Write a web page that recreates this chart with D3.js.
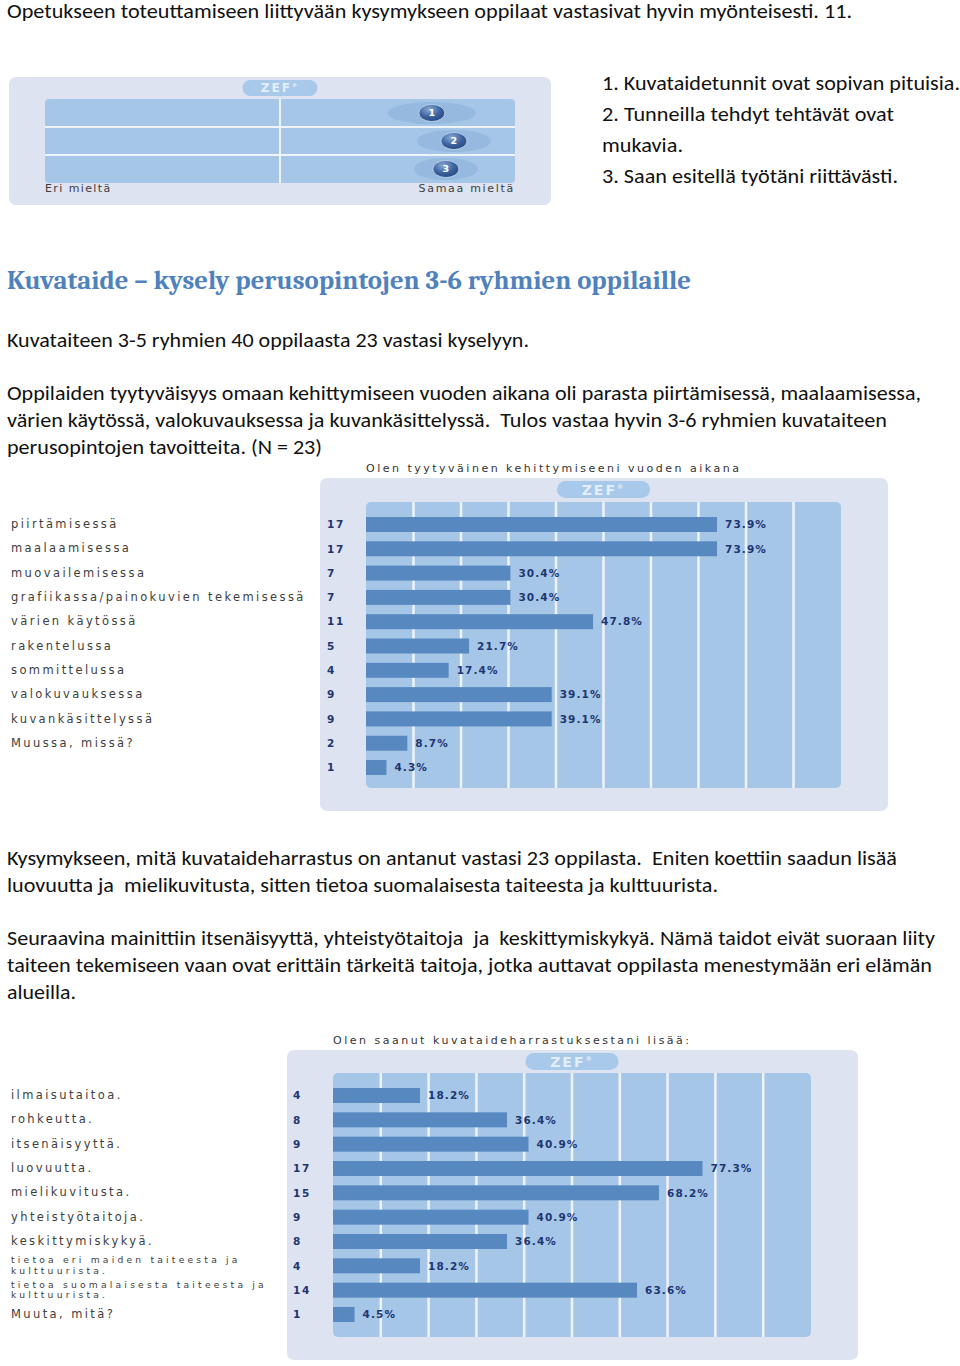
<!DOCTYPE html>
<html><head><meta charset="utf-8">
<script src="https://cdn.jsdelivr.net/npm/d3@7/dist/d3.min.js"></script>
<style>
html,body{margin:0;padding:0;background:#fff;}
svg{display:block;}
text{white-space:pre;}
</style></head><body>
<svg id="page" width="960" height="1366"></svg>
<script>
// ================= DATA =================
const introLine = "Opetukseen toteuttamiseen liittyvään kysymykseen oppilaat vastasivat hyvin myönteisesti. 11.";
const statementLines = [
  "1. Kuvataidetunnit ovat sopivan pituisia.",
  "2. Tunneilla tehdyt tehtävät ovat",
  "mukavia.",
  "3. Saan esitellä työtäni riittävästi."
];
const headingText = "Kuvataide – kysely perusopintojen 3-6 ryhmien oppilaille";
const bodyLines = [
  "Kuvataiteen 3-5 ryhmien 40 oppilaasta 23 vastasi kyselyyn.",
  "Oppilaiden tyytyväisyys omaan kehittymiseen vuoden aikana oli parasta piirtämisessä, maalaamisessa,",
  "värien käytössä, valokuvauksessa ja kuvankäsittelyssä.  Tulos vastaa hyvin 3-6 ryhmien kuvataiteen",
  "perusopintojen tavoitteita. (N = 23)",
  "Kysymykseen, mitä kuvataideharrastus on antanut vastasi 23 oppilasta.  Eniten koettiin saadun lisää",
  "luovuutta ja  mielikuvitusta, sitten tietoa suomalaisesta taiteesta ja kulttuurista.",
  "Seuraavina mainittiin itsenäisyyttä, yhteistyötaitoja  ja  keskittymiskykyä. Nämä taidot eivät suoraan liity",
  "taiteen tekemiseen vaan ovat erittäin tärkeitä taitoja, jotka auttavat oppilasta menestymään eri elämän",
  "alueilla."
];

// ZEF statement chart (mean position on 0-100 scale, spread as halo half-width)
const zefNumbers = ["1", "2", "3"];
const zefMeans = [82.3, 87.0, 85.3];
const zefSpreads = [9.4, 7.9, 6.8];
const zefScaleLabels = ["Eri mieltä", "Samaa mieltä"];

// Chart 2
const devTitle = "Olen tyytyväinen kehittymiseeni vuoden aikana";
const devCategories = ["piirtämisessä", "maalaamisessa", "muovailemisessa",
  "grafiikassa/painokuvien tekemisessä", "värien käytössä", "rakentelussa",
  "sommittelussa", "valokuvauksessa", "kuvankäsittelyssä", "Muussa, missä?", ""];
const devCounts = [17, 17, 7, 7, 11, 5, 4, 9, 9, 2, 1];
const devPercents = [73.9, 73.9, 30.4, 30.4, 47.8, 21.7, 17.4, 39.1, 39.1, 8.7, 4.3];

// Chart 3
const gainTitle = "Olen saanut kuvataideharrastuksestani lisää:";
const gainCategories = ["ilmaisutaitoa.", "rohkeutta.", "itsenäisyyttä.", "luovuutta.",
  "mielikuvitusta.", "yhteistyötaitoja.", "keskittymiskykyä.",
  "tietoa eri maiden taiteesta ja\nkulttuurista.",
  "tietoa suomalaisesta taiteesta ja\nkulttuurista.", "Muuta, mitä?"];
const gainCounts = [4, 8, 9, 17, 15, 9, 8, 4, 14, 1];
const gainPercents = [18.2, 36.4, 40.9, 77.3, 68.2, 40.9, 36.4, 18.2, 63.6, 4.5];

const gridTicks = [0, 10, 20, 30, 40, 50, 60, 70, 80, 90, 100];

// ================= LAYOUT / STYLE =================
const BODY_FONT = "Carlito, Calibri, Lato, sans-serif";
const HEAD_FONT = "Caladea, Cambria, 'Liberation Serif', serif";
const ZEF_FONT = "'DejaVu Sans', Verdana, sans-serif";
const C = {
  panel: "#dde3f1", grid: "#a6c6e8", divider: "#eef3fa", bar: "#5789c0",
  value: "#1d3672", label: "#3e3e3e", pill: "#a9c9ea", halo: "#93b6dd",
  heading: "#4f81bd", body: "#111"
};

const svg = d3.select("#page");

function fitText(sel, x, baseline, width) {
  return sel.attr("x", x).attr("y", baseline)
    .attr("textLength", width).attr("lengthAdjust", "spacingAndGlyphs");
}

// ---- body text ----
const bodyG = svg.append("g").attr("font-family", BODY_FONT).attr("font-size", 20).attr("fill", C.body);
fitText(bodyG.append("text").text(introLine), 7, 18, 845);

const statementPos = [[602, 90, 358], [602, 121, 292], [602, 152, 81], [602, 183, 296]];
statementLines.forEach((t, i) => fitText(bodyG.append("text").text(t), statementPos[i][0], statementPos[i][1], statementPos[i][2]));

const bodyPos = [[7, 347, 522], [7, 400, 914], [7, 427, 880], [7, 454, 315],
  [7, 865, 890], [7, 892, 711], [7, 945, 928], [7, 972, 925], [7, 999, 69]];
bodyLines.forEach((t, i) => fitText(bodyG.append("text").text(t), bodyPos[i][0], bodyPos[i][1], bodyPos[i][2]));

fitText(svg.append("text").text(headingText)
  .attr("font-family", HEAD_FONT).attr("font-weight", "bold").attr("font-size", 27)
  .attr("fill", C.heading), 7, 289, 684);

// ---- helpers ----
function zefPill(g, cx, cy, w, h, fs) {
  g.append("rect").attr("x", cx - w / 2).attr("y", cy - h / 2).attr("width", w).attr("height", h)
    .attr("rx", h / 2).attr("fill", C.pill);
  const t = g.append("text").attr("x", cx).attr("y", cy).attr("dy", "0.36em")
    .attr("text-anchor", "middle").attr("font-family", ZEF_FONT).attr("font-weight", "bold")
    .attr("font-size", fs).attr("letter-spacing", 2).attr("fill", "#e4eef9");
  t.append("tspan").text("ZEF");
  t.append("tspan").text("®").attr("font-size", fs * 0.45).attr("dy", "-0.9em");
}

// ---- chart 1: ZEF statements ----
(function () {
  const P = { x: 9, y: 77, w: 542, h: 128 };
  const G = { x0: 45, x1: 515, y0: 99, y1: 183 };
  const g = svg.append("g");
  g.append("rect").attr("x", P.x).attr("y", P.y).attr("width", P.w).attr("height", P.h)
    .attr("rx", 7).attr("fill", C.panel);
  zefPill(g, (G.x0 + G.x1) / 2, 88, 75, 16, 12);
  const x = d3.scaleLinear().domain([0, 100]).range([G.x0, G.x1]);
  const y = d3.scaleBand().domain(zefNumbers).range([G.y0, G.y1]);
  g.append("rect").attr("x", G.x0).attr("y", G.y0).attr("width", G.x1 - G.x0).attr("height", G.y1 - G.y0)
    .attr("rx", 4).attr("fill", C.grid);
  g.append("line").attr("x1", x(50)).attr("x2", x(50)).attr("y1", G.y0).attr("y2", G.y1)
    .attr("stroke", C.divider).attr("stroke-width", 2);
  zefNumbers.slice(1).forEach(n => {
    g.append("line").attr("x1", G.x0).attr("x2", G.x1).attr("y1", y(n)).attr("y2", y(n))
      .attr("stroke", C.divider).attr("stroke-width", 2);
  });
  const defs = svg.append("defs");
  const rg = defs.append("radialGradient").attr("id", "ball").attr("cx", "40%").attr("cy", "30%").attr("r", "75%");
  rg.append("stop").attr("offset", "0%").attr("stop-color", "#8aabd6");
  rg.append("stop").attr("offset", "55%").attr("stop-color", "#3d64a0");
  rg.append("stop").attr("offset", "100%").attr("stop-color", "#23467f");
  zefNumbers.forEach((n, i) => {
    const cy = y(n) + y.bandwidth() / 2;
    const cx = x(zefMeans[i]);
    g.append("ellipse").attr("cx", cx).attr("cy", cy)
      .attr("rx", x(zefSpreads[i]) - x(0)).attr("ry", 11).attr("fill", C.halo).attr("opacity", 0.85);
    g.append("ellipse").attr("cx", cx).attr("cy", cy).attr("rx", 13).attr("ry", 8.5)
      .attr("fill", "url(#ball)").attr("stroke", "#c9d9ee").attr("stroke-width", 0.8);
    g.append("text").attr("x", cx).attr("y", cy).attr("dy", "0.36em").attr("text-anchor", "middle")
      .attr("font-family", ZEF_FONT).attr("font-weight", "bold").attr("font-size", 9.5)
      .attr("fill", "#fff").text(n);
  });
  g.append("text").attr("x", G.x0).attr("y", 188).attr("dy", "0.36em")
    .attr("font-family", ZEF_FONT).attr("font-size", 11).attr("letter-spacing", 1.4)
    .attr("fill", C.label).text(zefScaleLabels[0]);
  g.append("text").attr("x", G.x1).attr("y", 188).attr("dy", "0.36em").attr("text-anchor", "end")
    .attr("font-family", ZEF_FONT).attr("font-size", 11).attr("letter-spacing", 1.7)
    .attr("fill", C.label).text(zefScaleLabels[1]);
})();

// ---- bar chart helper ----
function barChart(cfg, title, categories, counts, percents) {
  const g = svg.append("g");
  const P = cfg.panel, G = cfg.grid;
  const x = d3.scaleLinear().domain([0, 100]).range([G.x0, G.x1]);
  const y = d3.scalePoint().domain(d3.range(categories.length)).range(cfg.rows);

  g.append("text").attr("x", G.x0).attr("y", P.y - 10).attr("dy", "0.36em")
    .attr("font-family", ZEF_FONT).attr("font-size", 11).attr("letter-spacing", 2.5)
    .attr("fill", "#333").text(title);
  g.append("rect").attr("x", P.x).attr("y", P.y).attr("width", P.w).attr("height", P.h)
    .attr("rx", 7).attr("fill", C.panel);
  zefPill(g, (G.x0 + G.x1) / 2, P.y + 11.5, 93, 17, 14);
  g.append("rect").attr("x", G.x0).attr("y", G.y0).attr("width", G.x1 - G.x0).attr("height", G.y1 - G.y0)
    .attr("rx", 5).attr("fill", C.grid);
  g.selectAll(".div").data(gridTicks.slice(1, -1)).join("line")
    .attr("x1", d => x(d)).attr("x2", d => x(d)).attr("y1", G.y0).attr("y2", G.y1)
    .attr("stroke", C.divider).attr("stroke-width", 2.5);

  g.selectAll(".bar").data(percents).join("rect")
    .attr("x", x(0)).attr("y", (d, i) => y(i) - cfg.barH / 2)
    .attr("width", d => x(d) - x(0)).attr("height", cfg.barH).attr("fill", C.bar);

  g.selectAll(".val").data(percents).join("text")
    .attr("x", d => x(d) + 8).attr("y", (d, i) => y(i)).attr("dy", "0.36em")
    .attr("font-family", ZEF_FONT).attr("font-weight", "bold").attr("font-size", 10.5)
    .attr("letter-spacing", 1.1).attr("fill", C.value).text(d => d.toFixed(1) + "%");

  g.selectAll(".cnt").data(counts).join("text")
    .attr("x", cfg.countX).attr("y", (d, i) => y(i)).attr("dy", "0.36em")
    .attr("font-family", ZEF_FONT).attr("font-weight", "bold").attr("font-size", 10.5)
    .attr("letter-spacing", 1.6).attr("fill", C.value).text(d => d);

  categories.forEach((c, i) => {
    const lines = c.split("\n");
    const multi = lines.length > 1;
    lines.forEach((ln, j) => {
      g.append("text").attr("x", 11)
        .attr("y", y(i) + (j - (lines.length - 1) / 2) * 10.4 - 0.5).attr("dy", "0.36em")
        .attr("font-family", ZEF_FONT).attr("font-size", multi ? 9.2 : 11.5)
        .attr("letter-spacing", multi ? 3.2 : 2.4)
        .attr("fill", C.label).text(ln);
    });
  });
}

barChart({
  panel: { x: 320, y: 478, w: 568, h: 333 },
  grid: { x0: 366, x1: 841, y0: 502, y1: 788 },
  rows: [524.5, 767.5], barH: 15, countX: 327
}, devTitle, devCategories, devCounts, devPercents);

barChart({
  panel: { x: 287, y: 1050, w: 571, h: 310 },
  grid: { x0: 333, x1: 811, y0: 1073, y1: 1337 },
  rows: [1095.5, 1314.5], barH: 15, countX: 293
}, gainTitle, gainCategories, gainCounts, gainPercents);
</script>
</body></html>
